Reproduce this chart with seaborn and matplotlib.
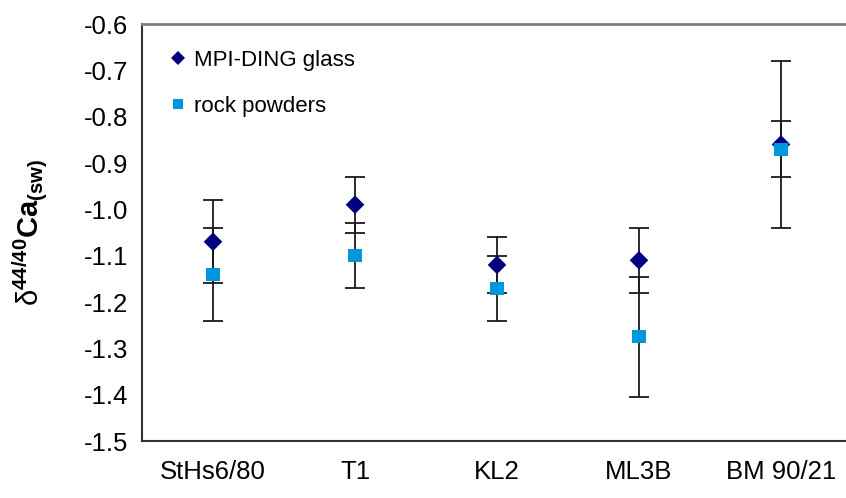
import numpy as np
import pandas as pd
import matplotlib
matplotlib.use("Agg")
import matplotlib.pyplot as plt
import seaborn as sns

samples = ["StHs6/80", "T1", "KL2", "ML3B", "BM 90/21"]
glass = [-1.07, -0.99, -1.12, -1.11, -0.86]
glass_err = [0.09, 0.06, 0.06, 0.07, 0.18]
powder = [-1.14, -1.10, -1.17, -1.275, -0.87]
powder_err = [0.10, 0.07, 0.07, 0.13, 0.06]
yticks = [-1.5, -1.4, -1.3, -1.2, -1.1, -1.0, -0.9, -0.8, -0.7, -0.6]

sns.set_theme(style="white")
plt.rcParams['font.family'] = ['Liberation Sans', 'DejaVu Sans']
plt.rcParams['text.color'] = 'black'
plt.rcParams['axes.labelcolor'] = 'black'
plt.rcParams['mathtext.fontset'] = 'custom'
plt.rcParams['mathtext.rm'] = 'Liberation Sans'
plt.rcParams['mathtext.bf'] = 'Liberation Sans:bold'
plt.rcParams['mathtext.it'] = 'Liberation Sans:italic'

fig = plt.figure(figsize=(8.46, 4.98), dpi=100)
ax = fig.add_axes([142/846, 1-441/498, 710/846, 417/498])

x = np.arange(len(samples))
df = pd.DataFrame({
    "x": np.concatenate([x, x]),
    "value": glass + powder,
    "err": glass_err + powder_err,
    "type": ["MPI-DING glass"] * len(samples) + ["rock powders"] * len(samples),
})

ax.errorbar(x, glass, yerr=glass_err, fmt='none', ecolor='#1a1a1a', elinewidth=1.3,
            capsize=7.5, capthick=1.3, zorder=2)
ax.errorbar(x, powder, yerr=powder_err, fmt='none', ecolor='#1a1a1a', elinewidth=1.3,
            capsize=7.5, capthick=1.3, zorder=2)

sns.scatterplot(data=df, x="x", y="value", hue="type", style="type",
                markers={"MPI-DING glass": "D", "rock powders": "s"},
                palette={"MPI-DING glass": "#000080", "rock powders": "#0096DB"},
                s=90, linewidth=0, ax=ax, zorder=3)

ax.set_xlim(-0.5, len(samples) - 0.5)
ax.set_ylim(-1.5, -0.6)
ax.set_yticks(yticks)
ax.set_yticklabels([f"{v:.1f}" for v in yticks], fontsize=18.5)
ax.set_xticks(x)
ax.set_xticklabels(samples, fontsize=18.5)
ax.set_xticks(np.arange(-0.5, len(samples), 1.0), minor=True)
ax.tick_params(axis='x', which='major', length=0, pad=14)
ax.tick_params(axis='x', which='minor', length=8, width=1.2, color='#333333', direction='out')
ax.tick_params(axis='y', which='major', length=6, width=1.2, color='#333333', direction='out', pad=4)
ax.tick_params(axis='both', colors='#333333', labelcolor='black')

for s in ['left', 'bottom']:
    ax.spines[s].set_color('#333333')
    ax.spines[s].set_linewidth(1.5)
ax.spines['top'].set_color('#808080')
ax.spines['top'].set_linewidth(2)
ax.spines['right'].set_visible(False)

ax.set_xlabel("")
ax.set_ylabel(r'δ$^{\mathbf{44/40}}\mathbf{Ca}_{\mathbf{(sw)}}$', fontsize=21, color='black')
ax.yaxis.set_label_coords(-0.13, 0.5)

h, l = ax.get_legend_handles_labels()
leg = ax.legend(h, l, loc='upper left', bbox_to_anchor=(0.02, 0.96), frameon=False,
                fontsize=16, handletextpad=0.1, handlelength=1.2, labelspacing=1.15,
                markerscale=0.75, borderaxespad=0, labelcolor='black')

fig.savefig("out.png", dpi=100)
